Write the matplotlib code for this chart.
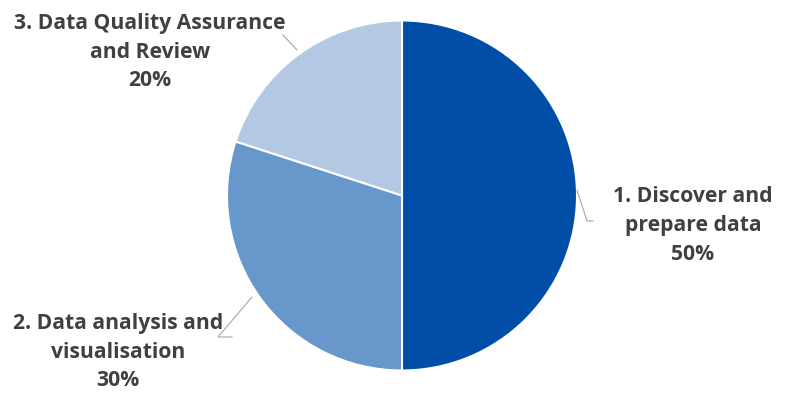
import numpy as np
import matplotlib.pyplot as plt

labels = ["1. Discover and\nprepare data", "2. Data analysis and\nvisualisation", "3. Data Quality Assurance\nand Review"]
values = [50, 30, 20]
colors = ["#004EA8", "#6797CB", "#B3C9E3"]

fig = plt.figure(figsize=(7.92, 3.98), dpi=100)
ax = fig.add_axes([0, 0, 1, 1])

cx, cy, r = 402, 202.5, 175
wedges, _ = ax.pie(values, colors=colors, startangle=90, counterclock=False,
                   center=(cx, cy), radius=r, frame=True,
                   wedgeprops=dict(edgecolor="white", linewidth=1.5))
ax.set_xlim(0, 792)
ax.set_ylim(0, 398)
ax.set_aspect("equal")
ax.axis("off")

# label anchors (text center)
label_pos = [(693, 172), (118, 46), (150, 346)]
txt_color = "#404040"

for i, w in enumerate(wedges):
    tx, ty = label_pos[i]
    ax.text(tx, ty, labels[i] + "\n" + f"{values[i]}%", ha="center", va="center",
            fontsize=15.2, fontweight="bold", color=txt_color,
            family=["Open Sans", "DejaVu Sans"], linespacing=1.5)

# leader lines
ax.plot([577, 587, 593], [208, 177, 177], color="#A6A6A6", lw=0.8)
ax.plot([252, 218, 232], [101, 61, 61], color="#A6A6A6", lw=0.8)
ax.plot([297, 283], [348, 363], color="#A6A6A6", lw=0.8)

fig.savefig("out.png", dpi=100)
